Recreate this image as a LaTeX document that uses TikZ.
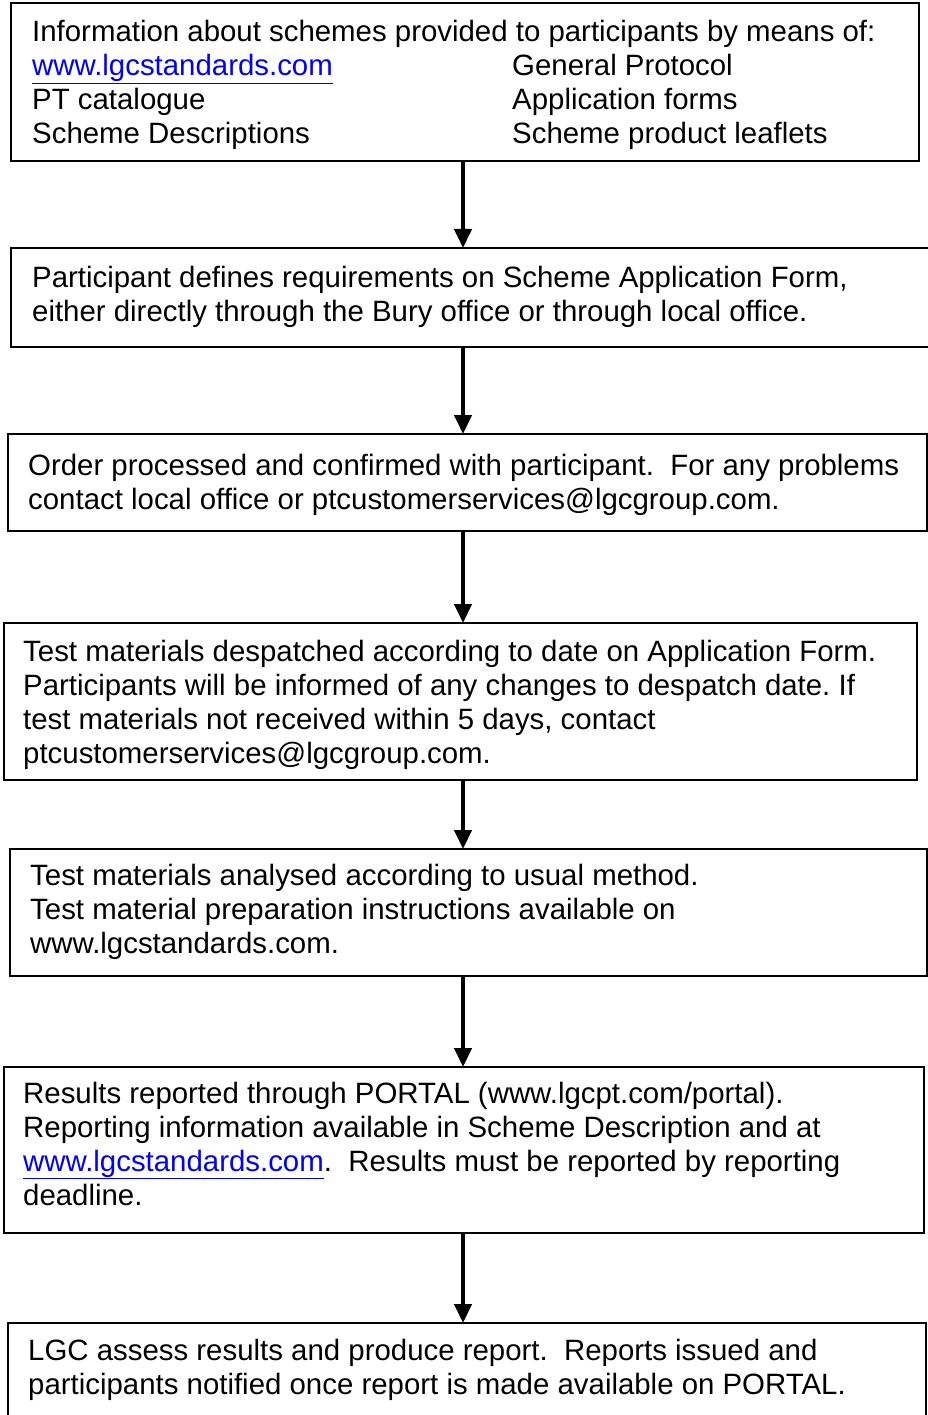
\documentclass[tikz,border=0pt]{standalone}
\usepackage{fontspec}
\setmainfont{Liberation Sans}
\usetikzlibrary{arrows.meta}
\definecolor{linkblue}{RGB}{0,0,255}
\newcommand{\lnk}[1]{\textcolor{linkblue}{\underline{#1}}}
\frenchspacing
\tikzset{
  box/.style={draw=black, line width=1.8pt, fill=none, anchor=north west, inner sep=0pt},
  txt/.style={anchor=base west, inner sep=0pt, align=left, font=\fontsize{29.4}{34}\selectfont},
  flow/.style={line width=4.4pt, -{Triangle[width=17pt,length=19pt]}, shorten >=-1pt}
}
\begin{document}
\begin{tikzpicture}[x=1pt,y=-1pt]
\useasboundingbox (0,0) rectangle (928,1415);
% boxes
\node[box, minimum width=908pt, minimum height=158pt] (b1) at (10,2) {};
\node[box, minimum width=920pt, minimum height=99pt] (b2) at (10,247) {};
\node[box, minimum width=919pt, minimum height=97pt] (b3) at (7,433) {};
\node[box, minimum width=913pt, minimum height=157pt] (b4) at (3,622) {};
\node[box, minimum width=917pt, minimum height=127pt] (b5) at (9,848) {};
\node[box, minimum width=920pt, minimum height=166pt] (b6) at (3,1066) {};
\node[box, minimum width=918pt, minimum height=100pt] (b7) at (7,1322) {};
% texts (anchor = baseline of last line)
\node[txt] (t1a) at (32,144) {Information about schemes provided to participants by means of:\\
\lnk{www.lgcstandards.com}\\
PT catalogue\\
Scheme Descriptions};
\node[txt] (t1b) at (512,144) {General Protocol\\
Application forms\\
Scheme product leaflets};
\node[txt] (t2) at (32,321) {Participant defines requirements on Scheme Application Form,\\
either directly through the Bury office or through local office.};
\node[txt] (t3) at (28,509) {Order processed and confirmed with participant.\ \ For any problems\\
contact local office or ptcustomerservices@lgcgroup.com.};
\node[txt] (t4) at (23,763) {Test materials despatched according to date on Application Form.\\
Participants will be informed of any changes to despatch date. If\\
test materials not received within 5 days, contact\\
ptcustomerservices@lgcgroup.com.};
\node[txt] (t5) at (30,953) {Test materials analysed according to usual method.\\
Test material preparation instructions available on\\
www.lgcstandards.com.};
\node[txt] (t6) at (23,1205) {Results reported through PORTAL (www.lgcpt.com/portal).\\
Reporting information available in Scheme Description and at\\
\lnk{www.lgcstandards.com}.\ \ Results must be reported by reporting\\
deadline.};
\node[txt] (t7) at (28,1394) {LGC assess results and produce report.\ \ Reports issued and\\
participants notified once report is made available on PORTAL.};
% arrows
\draw[flow] (b1.south -| 463,0) -- (b2.north -| 463,0);
\draw[flow] (b2.south -| 463,0) -- (b3.north -| 463,0);
\draw[flow] (b3.south -| 463,0) -- (b4.north -| 463,0);
\draw[flow] (b4.south -| 463,0) -- (b5.north -| 463,0);
\draw[flow] (b5.south -| 463,0) -- (b6.north -| 463,0);
\draw[flow] (b6.south -| 463,0) -- (b7.north -| 463,0);
\end{tikzpicture}
\end{document}
